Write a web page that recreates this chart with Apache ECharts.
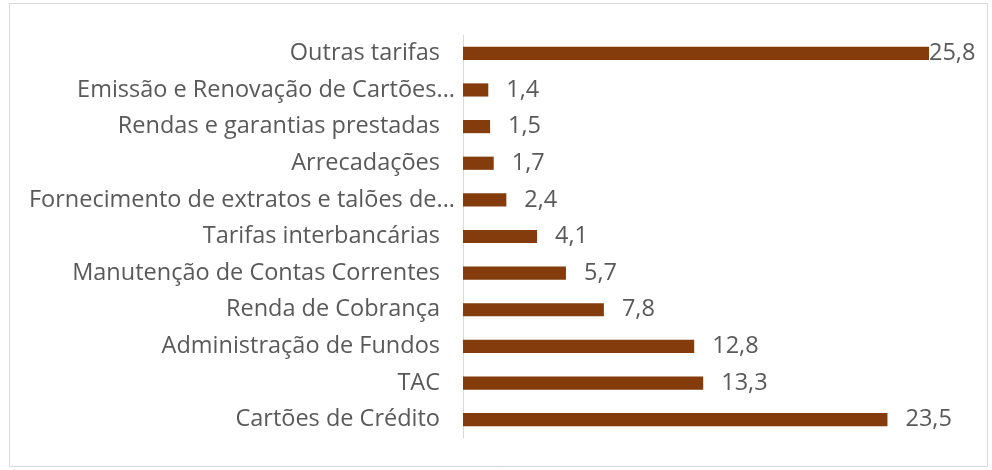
<!DOCTYPE html>
<html><head><meta charset="utf-8">
<script src="https://cdn.jsdelivr.net/npm/echarts@6/dist/echarts.min.js"></script>
<style>html,body{margin:0;padding:0;background:#fff}#c{width:992px;height:470px}</style>
</head><body><div id="c"></div>
<script>
var categories = ['Cartões de Crédito','TAC','Administração de Fundos','Renda de Cobrança','Manutenção de Contas Correntes','Tarifas interbancárias','Fornecimento de extratos e talões de...','Arrecadações','Rendas e garantias prestadas','Emissão e Renovação de Cartões...','Outras tarifas'];
var values = [23.5,13.3,12.8,7.8,5.7,4.1,2.4,1.7,1.5,1.4,25.8];

var chart = echarts.init(document.getElementById('c'));
var fontFam = '"Open Sans", "Noto Sans", sans-serif';
chart.setOption({
  animation:false,
  graphic:[{type:'rect',shape:{x:9.5,y:3.5,width:978,height:463},style:{fill:'none',stroke:'#d9d9d9',lineWidth:1}}],
  grid:{left:463,right:63,top:35,bottom:32,containLabel:false},
  xAxis:{type:'value',min:0,max:25.8,show:false},
  yAxis:{type:'category',data:categories,
    axisLine:{show:true,lineStyle:{color:'#d9d9d9'}},
    axisTick:{show:false},
    axisLabel:{color:'#595959',fontSize:23.5,fontFamily:fontFam,margin:8,
      formatter:function(v){return /\.\.\.$/.test(v) ? '{t|'+v+'}' : '{n|'+v+'}';},
      rich:{
        t:{color:'#595959',fontSize:23.5,fontFamily:fontFam},
        n:{color:'#595959',fontSize:23.5,fontFamily:fontFam,padding:[0,15,0,0]}
      }}},
  series:[{type:'bar',data:values.map(function(v,i){
      return {value:v,label:{distance:(i===values.length-1)?0:18}};
    }),
    barWidth:'36%',
    itemStyle:{color:'#843C0C'},
    label:{show:true,position:'right',color:'#595959',fontSize:23.5,fontFamily:fontFam,
      formatter:function(p){return String(p.value).replace('.',',');}}
  }]
});
</script></body></html>
